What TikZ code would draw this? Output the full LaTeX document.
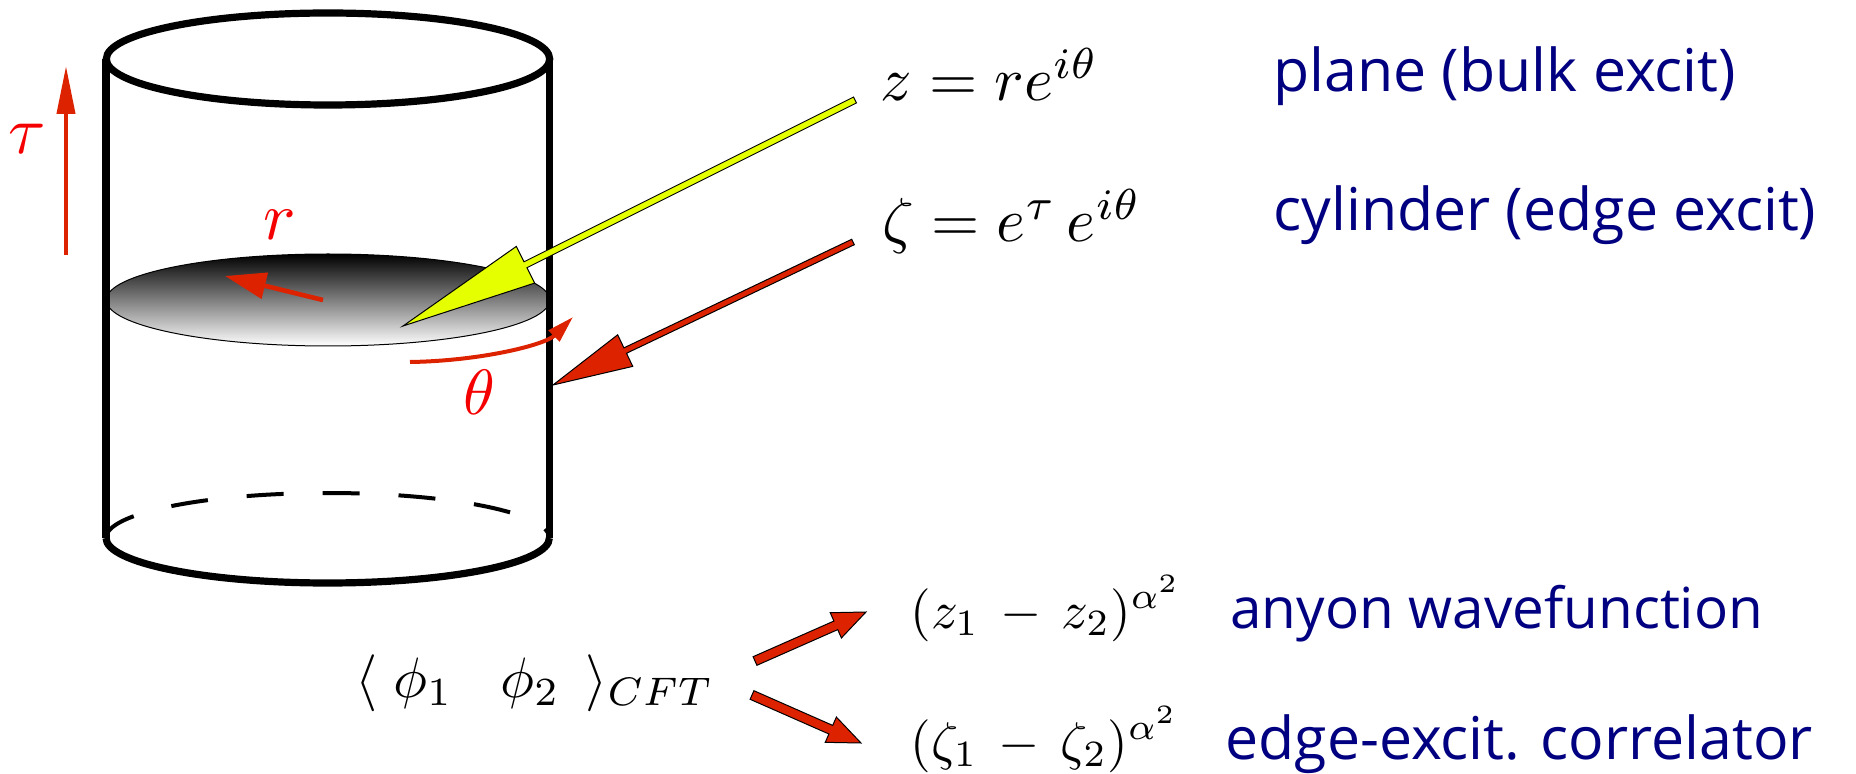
\documentclass[tikz,border=0pt]{standalone}
\usepackage{fontspec}
\usepackage{graphicx}
\newfontfamily\bluefont{Open Sans}
\usetikzlibrary{calc,arrows.meta}
\definecolor{arrred}{RGB}{221,34,0}
\definecolor{labred}{RGB}{245,0,0}
\definecolor{txtblue}{RGB}{0,0,128}
\definecolor{yel}{RGB}{230,255,0}
% fat outlined arrow: from, to, shaft half width, head length, head half width, fill
\newcommand\fatarrow[6]{%
  \coordinate (#1-#2-h) at ($(#2)!#4!(#1)$);
  \filldraw[fill=#6, draw=black, line width=0.5pt, line join=miter]
    ($(#1)!#3!90:(#2)$) -- ($(#1-#2-h)!#3!90:(#2)$) -- ($(#1-#2-h)!#5!90:(#2)$) -- (#2)
    -- ($(#1-#2-h)!#5!-90:(#2)$) -- ($(#1-#2-h)!#3!-90:(#2)$) -- ($(#1)!#3!-90:(#2)$) -- cycle;}
\begin{document}
\begin{tikzpicture}[x=0.5pt,y=-0.5pt,
  cyl/.style={line width=3.6pt},
  redlab/.style={text=labred, inner sep=0pt},
  bluetext/.style={text=txtblue, font=\bluefont\fontsize{29.5}{35}\selectfont, anchor=base west, inner sep=0pt},
  mathlab/.style={anchor=base west, inner sep=0pt},
  redline/.style={draw=arrred}]
\useasboundingbox (0,0) rectangle (1856,774);

% shaded disc
\shade[top color=black, bottom color=white, draw=black, line width=0.5pt]
  (328,300) ellipse [x radius=221.7, y radius=46];

% cylinder
\coordinate (tl) at (106,59);
\coordinate (tr) at (549.5,59);
\coordinate (bl) at (106,538);
\coordinate (br) at (549.5,538);
\draw[cyl] (328,59) ellipse [x radius=221.7, y radius=46];
\draw[cyl] (tl) -- (bl);
\draw[cyl] (tr) -- (br);
\draw[cyl] (bl) arc[start angle=180, end angle=0, x radius=221.7, y radius=45];
\draw[line width=2pt, dash pattern=on 18.5pt off 19.5pt]
  (bl) arc[start angle=180, end angle=360, x radius=221.7, y radius=45];

% red labels
\node[redlab] (tau) at (27,139) {\scalebox{3.4}{$\tau$}};
\node[redlab] (rlab) at (280,225) {\scalebox{3.4}{$r$}};
\node[redlab] (thlab) at (479,392) {\scalebox{3.2}{$\theta$}};

% tau arrow
\coordinate (tau0) at (66,255);
\coordinate (tau1) at (66,66);
\draw[redline, line width=2pt, -{Triangle[length=24pt,width=9pt]}, arrred] (tau0) -- (tau1);
% r arrow
\coordinate (r0) at (323,300);
\coordinate (r1) at (225,276);
\draw[redline, line width=2.3pt, -{Triangle[length=20.5pt,width=13pt]}, arrred] (r0) -- (r1);
% theta arc
\coordinate (th0) at (410,362);
\coordinate (th1) at (573,317);
\draw[redline, line width=2pt, -{Triangle[length=13.5pt,width=7.5pt]}, arrred]
  (th0) .. controls (480,361) and (545,345) .. (th1);

% formulas and texts (top)
\node[mathlab] (zeq) at (880,101) {\scalebox{3.1}{$z = re^{i\theta}$}};
\node[mathlab] (zetaeq) at (882,242) {\scalebox{3.1}{$\zeta = e^{\tau}\, e^{i\theta}$}};
\node[bluetext] (plane) at (1273,92) {plane (bulk excit)};
\node[bluetext] (cyltext) at (1273,231) {cylinder (edge excit)};

% yellow and red pointer arrows
\coordinate (ya) at (855,100);
\coordinate (yb) at (403,326);
\fatarrow{ya}{yb}{1.65pt}{68.5pt}{10.25pt}{yel}
\coordinate (ra) at (853,242);
\coordinate (rb) at (553,385);
\fatarrow{ra}{rb}{1.5pt}{40pt}{8.75pt}{arrred}

% bottom
\node[mathlab] (cft) at (355,697) {\scalebox{2.85}{$\langle\; \phi_1\;\;\; \phi_2\;\, \rangle_{CFT}$}};
\node[mathlab] (zz) at (910,628) {\scalebox{2.65}{$(z_1\,-\,z_2)^{\alpha^2}$}};
\node[mathlab] (zetazeta) at (910,759) {\scalebox{2.65}{$(\zeta_1\,-\,\zeta_2)^{\alpha^2}$}};
\node[bluetext, font=\bluefont\fontsize{28.3}{34}\selectfont] (anyon) at (1230,628) {anyon wavefunction};
\node[bluetext] (edge) at (1225,759) {edge-excit. correlator};

\coordinate (c1a) at (755,661);
\coordinate (c1b) at (866,612);
\fatarrow{c1a}{c1b}{2.35pt}{16.5pt}{6.9pt}{arrred}
\coordinate (c2a) at (752,695);
\coordinate (c2b) at (861,743);
\fatarrow{c2a}{c2b}{2.35pt}{16.5pt}{6.9pt}{arrred}
\end{tikzpicture}
\end{document}
